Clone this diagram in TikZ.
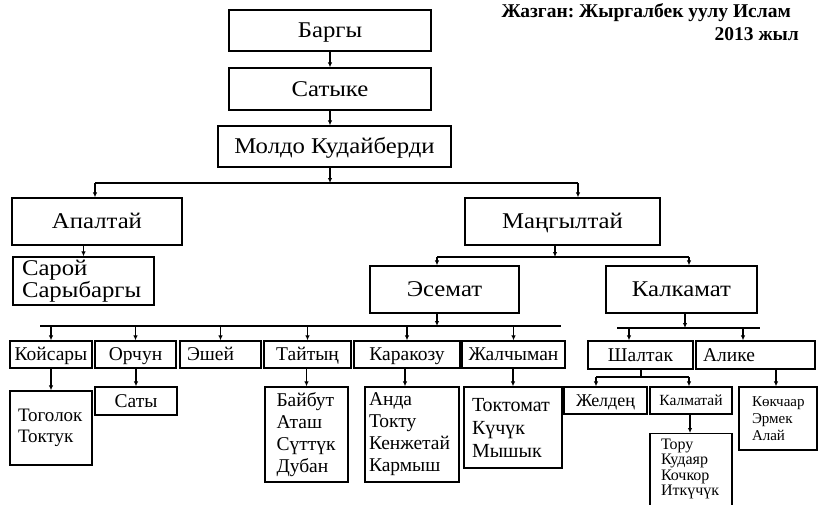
\documentclass[tikz,border=0pt]{standalone}
\usepackage{fontspec}
\setmainfont{Liberation Serif}
\newfontfamily\widefont[FakeStretch=1.1]{Liberation Serif}
\frenchspacing
\usetikzlibrary{arrows.meta}
\tikzset{
  tree-box/.style={draw=black, line width=1.3pt, inner sep=3pt,
    font=\widefont\fontsize{22.5}{25}\selectfont, align=center},
  one-line/.style={text height=#1, text depth=0pt},
  one-line/.default=14.9pt,
  row-box/.style={tree-box, one-line=12.9pt, font=\fontsize{19.5}{22}\selectfont, minimum height=27},
  list-box/.style={tree-box, font=\fontsize{19}{21.5}\selectfont, align=left},
  small-box/.style={tree-box, font=\fontsize{16}{18}\selectfont, align=left},
  tree-line/.style={line width=1.2pt, draw=black},
  tree-arrow/.style={tree-line, -{Latex[length=5pt,width=4.5pt]}},
  title-text/.style={font=\bfseries\fontsize{19.5}{22}\selectfont, inner sep=0pt}
}
\begin{document}
\begin{tikzpicture}[x=1pt,y=-1pt]
\useasboundingbox (0,0) rectangle (818,505);
\clip (0,0) rectangle (818,505);
% author and year
\node[title-text, anchor=east] (author) at (791,13) {Жазган: Жыргалбек уулу Ислам};
\node[title-text, anchor=east] (year) at (799,34) {2013 жыл};
% first three generations
\node[tree-box, one-line, minimum width=202, minimum height=41] (bargy) at (330,30.5) {Баргы};
\node[tree-box, one-line, minimum width=202, minimum height=42] (satyke) at (330,89) {Сатыке};
\node[tree-box, one-line, minimum width=233, minimum height=41] (moldo) at (334.5,146.5) {Молдо Кудайберди};
\draw[tree-arrow] (bargy.south) -- (satyke.north);
\draw[tree-arrow] (satyke.south) -- (satyke.south |- moldo.north);
% sons of Moldo Kudaiberdi
\coordinate (bus-moldo) at (330,183);
\coordinate (bus-moldo-w) at (95,183);
\coordinate (bus-moldo-e) at (578,183);
\node[tree-box, one-line, minimum width=170, minimum height=47] (apaltai) at (97,221.5) {Апалтай};
\node[tree-box, one-line, minimum width=195, minimum height=47] (mangyl) at (562.5,221.5) {Маңгылтай};
\draw[tree-arrow] (moldo.south -| bus-moldo) -- (bus-moldo);
\draw[tree-line] (bus-moldo-w) -- (bus-moldo-e);
\draw[tree-arrow] (bus-moldo-w) -- (bus-moldo-w |- apaltai.north);
\draw[tree-arrow] (bus-moldo-e) -- (bus-moldo-e |- mangyl.north);
% Apaltai branch
\node[tree-box, align=left, minimum width=141, minimum height=48, inner xsep=9pt, text width=123pt,
  inner ysep=1pt, font=\widefont\fontsize{22.5}{19}\selectfont] (saroi) at (83.5,281) {Сарой\\Сарыбаргы};
\draw[tree-arrow] (apaltai.south -| saroi.north) -- (saroi.north);
% Mangyltai branch
\coordinate (bus-mangyl) at (555,257);
\coordinate (bus-mangyl-w) at (437,257);
\coordinate (bus-mangyl-e) at (689,257);
\node[tree-box, one-line, minimum width=149, minimum height=47] (esemat) at (444.5,289.5) {Эсемат};
\node[tree-box, one-line, minimum width=151, minimum height=47] (kalkamat) at (681.5,289.5) {Калкамат};
\draw[tree-arrow] (mangyl.south -| bus-mangyl) -- (bus-mangyl);
\draw[tree-line] (bus-mangyl-w) -- (bus-mangyl-e);
\draw[tree-arrow] (bus-mangyl-w) -- (bus-mangyl-w |- esemat.north);
\draw[tree-arrow] (bus-mangyl-e) -- (bus-mangyl-e |- kalkamat.north);
% sons of Esemat
\coordinate (bus-esemat) at (437,326);
\coordinate (bus-esemat-w) at (40,326);
\coordinate (bus-esemat-e) at (561,326);
\node[row-box, minimum width=82] (koisary) at (51,354.5) {Койсары};
\node[row-box, minimum width=81] (orchun) at (135.5,354.5) {Орчун};
\node[row-box, minimum width=81, align=left, text width=67pt, inner xsep=7pt] (eshei) at (220.5,354.5) {Эшей};
\node[row-box, minimum width=87] (taityn) at (307.5,354.5) {Тайтың};
\node[row-box, minimum width=106] (karakozu) at (407,354.5) {Каракозу};
\node[row-box, minimum width=103] (jalchyman) at (513.5,354.5) {Жалчыман};
\draw[tree-arrow] (esemat.south -| bus-esemat) -- (bus-esemat);
\draw[tree-line] (bus-esemat-w) -- (bus-esemat-e);
\foreach \son in {koisary,orchun,eshei,taityn,karakozu,jalchyman}
  \draw[tree-arrow] (\son.north |- bus-esemat) -- (\son.north);
% sons of Kalkamat
\coordinate (bus-kalkamat) at (685,328);
\coordinate (bus-kalkamat-w) at (617,328);
\coordinate (bus-kalkamat-e) at (760,328);
\node[row-box, minimum width=105, minimum height=28] (shaltak) at (640.5,355) {Шалтак};
\node[row-box, minimum width=119, minimum height=28, align=left, text width=105pt, inner xsep=7pt] (alike) at (755.5,355) {Алике};
\draw[tree-arrow] (kalkamat.south -| bus-kalkamat) -- (bus-kalkamat);
\draw[tree-line] (bus-kalkamat-w) -- (bus-kalkamat-e);
\draw[tree-arrow] (bus-kalkamat-w -| 629,0) -- (shaltak.north -| 629,0);
\draw[tree-arrow] (bus-kalkamat-e -| 743,0) -- (alike.north -| 743,0);
% grandsons of Esemat
\node[list-box, minimum width=82, minimum height=74, text width=66pt, inner xsep=8pt] (togolok) at (51,428) {Тоголок\\Токтук};
\node[row-box, minimum width=82, minimum height=28] (saty) at (136,401) {Саты};
\node[list-box, minimum width=83, minimum height=95, text width=60pt, inner xsep=11pt,
  font=\fontsize{19.5}{22}\selectfont] (baibut) at (306.5,434.5) {Байбут\\Аташ\\Сүттүк\\Дубан};
\node[list-box, minimum width=94, minimum height=95, text width=86pt, inner xsep=3pt,
  font=\fontsize{19.5}{22}\selectfont] (anda) at (412,434.5) {Анда\\Токту\\Кенжетай\\Кармыш};
\node[list-box, minimum width=98, minimum height=81, text width=82pt, inner xsep=7pt,
  font=\fontsize{20}{23}\selectfont] (toktomat) at (513,427.5) {Токтомат\\Күчүк\\Мышык};
\draw[tree-arrow] (koisary.south -| togolok.north) -- (togolok.north);
\draw[tree-arrow] (orchun.south -| saty.north) -- (saty.north);
\draw[tree-arrow] (taityn.south -| baibut.north) -- (baibut.north);
\draw[tree-arrow] (karakozu.south -| 405,0) -- (anda.north -| 405,0);
\draw[tree-arrow] (jalchyman.south -| toktomat.north) -- (toktomat.north);
% Shaltak branch
\coordinate (bus-shaltak) at (641,377);
\coordinate (bus-shaltak-w) at (596,377);
\coordinate (bus-shaltak-e) at (689,377);
\node[tree-box, one-line=11.9pt, minimum width=83, minimum height=27, font=\fontsize{18}{20}\selectfont] (jelden) at (605.5,400.5) {Желдең};
\node[tree-box, one-line=10.3pt, minimum width=82, minimum height=27, font=\fontsize{15.5}{17}\selectfont] (kalmatai) at (691,400.5) {Калматай};
\draw[tree-line] (shaltak.south -| bus-shaltak) -- (bus-shaltak);
\draw[tree-line] (bus-shaltak-w) -- (bus-shaltak-e);
\draw[tree-arrow] (bus-shaltak-w) -- (bus-shaltak-w |- jelden.north);
\draw[tree-arrow] (bus-shaltak-e) -- (bus-shaltak-e |- kalmatai.north);
\node[small-box, anchor=north, minimum width=82, text width=60pt, inner xsep=11pt,
  inner ysep=5pt, font=\fontsize{16}{15.5}\selectfont] (toru) at (691,433) {Тору\\Кудаяр\\Кочкор\\Иткүчүк\\[10pt]\mbox{}};
\draw[tree-arrow] (kalmatai.south -| 690,0) -- (toru.north -| 690,0);
% Alike branch
\node[small-box, minimum width=78, minimum height=63, text width=52pt, inner xsep=13pt,
  font=\fontsize{15}{17}\selectfont] (kokchaar) at (778,418.5) {Көкчаар\\Эрмек\\Алай};
\draw[tree-arrow] (alike.south -| 776,0) -- (kokchaar.north -| 776,0);
\end{tikzpicture}
\end{document}
